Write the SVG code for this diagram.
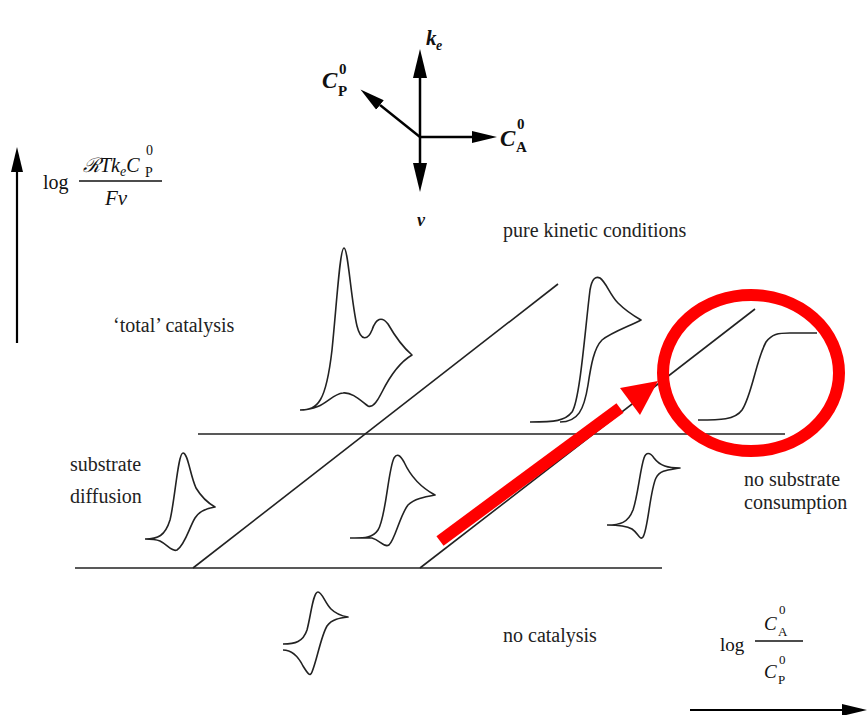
<svg xmlns="http://www.w3.org/2000/svg" width="867" height="715" viewBox="0 0 867 715">
<style>
.t{font-family:"Liberation Serif","Times New Roman",serif;font-size:20px;fill:#222}
.m{font-family:"Liberation Serif","Times New Roman",serif;fill:#111}
.bi{font-weight:bold;font-style:italic}
.b{font-weight:bold}
.i{font-style:italic}
.ln{stroke:#222;stroke-width:1.6;fill:none}
.cv{stroke:#222;stroke-width:1.6;fill:none;stroke-linejoin:round}
.ax{stroke:#000;stroke-width:2.5;fill:none}
</style>
<defs>
<marker id="ah" markerUnits="userSpaceOnUse" markerWidth="32" markerHeight="16" refX="0" refY="7" orient="auto" viewBox="0 0 32 14">
<path d="M0,0 L29,7 L0,14 z" fill="#000"/>
</marker>
<marker id="ah2" markerUnits="userSpaceOnUse" markerWidth="28" markerHeight="14" refX="0" refY="6" orient="auto" viewBox="0 0 28 12">
<path d="M0,0 L25,6 L0,12 z" fill="#000"/>
</marker>
</defs>

<g id="compass">
<line class="ax" x1="420" y1="137" x2="420" y2="78" marker-end="url(#ah)"/>
<line class="ax" x1="420" y1="137" x2="420" y2="163" marker-end="url(#ah)"/>
<line class="ax" x1="420" y1="137" x2="472" y2="137" marker-end="url(#ah2)"/>
<line class="ax" x1="420" y1="137" x2="380" y2="105" marker-end="url(#ah2)"/>
<text class="m bi" x="426" y="45" font-size="21">k</text>
<text class="m bi" x="436" y="50" font-size="14">e</text>
<text class="m bi" x="322" y="88" font-size="23">C</text>
<text class="m b" x="338" y="96" font-size="15">P</text>
<text class="m b" x="339" y="74" font-size="15">0</text>
<text class="m bi" x="500" y="146" font-size="23">C</text>
<text class="m b" x="516" y="152" font-size="15">A</text>
<text class="m b" x="517" y="129" font-size="15">0</text>
<text class="m bi" x="417" y="226" font-size="18">v</text>
</g>

<g id="y-axis">
<line x1="17" y1="343" x2="17" y2="172" stroke="#000" stroke-width="2.2" marker-end="url(#ah2)"/>
<text class="m" x="43" y="189" font-size="20">log</text>
<line x1="79" y1="181" x2="162" y2="181" stroke="#111" stroke-width="1.4"/>
<text class="m i" x="83" y="172" font-size="20">ℛ<tspan>Tk</tspan><tspan font-size="14" dy="4">e</tspan><tspan dy="-4">C</tspan></text>
<text class="m" x="145" y="177" font-size="14">P</text>
<text class="m" x="146" y="155" font-size="14">0</text>
<text class="m i" x="105" y="205" font-size="21">Fv</text>
</g>

<g id="x-axis">
<line x1="690" y1="710" x2="842" y2="710" stroke="#000" stroke-width="2.2" marker-end="url(#ah2)"/>
<text class="m" x="720" y="651" font-size="19">log</text>
<line x1="755" y1="641" x2="803" y2="641" stroke="#111" stroke-width="1.4"/>
<text class="m i" x="764" y="630" font-size="19">C</text>
<text class="m" x="778" y="636" font-size="13">A</text>
<text class="m" x="779" y="614" font-size="13">0</text>
<text class="m i" x="764" y="678" font-size="19">C</text>
<text class="m" x="778" y="684" font-size="13">P</text>
<text class="m" x="779" y="664" font-size="13">0</text>
</g>

<g id="connectors">
<line class="ln" x1="193" y1="568" x2="558" y2="284"/>
<line class="ln" x1="420" y1="568" x2="755" y2="309"/>
<line class="ln" x1="198" y1="434" x2="785" y2="434"/>
<line class="ln" x1="75" y1="568" x2="662" y2="568"/>
</g>

<g id="labels">
<text class="t" x="503" y="237">pure kinetic conditions</text>
<text class="t" x="113" y="332">‘total’ catalysis</text>
<text class="t" x="70" y="471">substrate</text>
<text class="t" x="70" y="503">diffusion</text>
<text class="t" x="744" y="486">no substrate</text>
<text class="t" x="744" y="509">consumption</text>
<text class="t" x="503" y="642">no catalysis</text>
</g>

<g id="cv-total">
<path class="cv" d="M300,410 C318,410 326,402 332,350 C337,300 340,248 344,248 C348,248 351,300 357,326 C361,342 368,340 372,330 C376,318 382,316 388,324 C396,338 405,349 412,355 C400,362 390,376 382,392 C376,404 372,408 368,406 C360,400 352,392 343,393 C330,394 325,410 300,410"/>
</g>
<g id="cv-kinetic">
<path class="cv" d="M530,422 C555,422 565,421 572,412 C580,400 585,330 590,290 C592,278 596,276 600,278 C606,282 610,295 618,303 C626,311 634,316 641,320 C630,326 612,332 602,340 C594,348 591,365 588,385 C584,410 578,422 560,422"/>
</g>
<g id="cv-sigmoid">
<path class="cv" d="M698,420 C720,420 735,420 742,410 C752,395 756,360 766,342 C772,334 778,333 790,333 L817,333"/>
</g>
<g id="cv-diffusion">
<path class="cv" d="M145,539 C158,539 165,536 170,520 C175,500 178,453 183,453 C188,453 190,475 196,488 C202,498 208,503 215,507 C208,508 200,510 195,518 C189,528 185,545 177,550 C172,552 168,545 160,541 C155,539 150,539 145,539"/>
</g>
<g id="cv-middle">
<path class="cv" d="M350,538 C362,538 372,539 378,530 C386,518 388,470 394,458 C397,453 400,455 404,462 C410,475 420,487 435,495 C424,497 414,499 408,505 C400,515 395,540 389,545 C384,548 380,540 372,538 C366,538 362,538 360,538"/>
</g>
<g id="cv-reversible">
<path class="cv" d="M607,525 C620,525 628,523 633,510 C638,495 640,470 644,458 C646,452 650,452 654,458 C660,466 668,468 680,468 C668,470 660,470 656,478 C650,490 648,530 643,537 C640,541 638,533 632,529 C625,525 615,525 607,525"/>
</g>
<g id="cv-nocat">
<path class="cv" d="M283,644 C295,644 303,642 307,630 C311,615 313,592 318,592 C322,592 325,603 331,609 C336,614 342,616 348,617 C340,618 332,619 327,626 C321,636 317,660 312,672 C310,677 308,674 303,666 C298,656 292,650 283,650"/>
</g>

<g id="highlight">
<ellipse cx="751" cy="373" rx="88" ry="78" fill="none" stroke="#ff0000" stroke-width="12"/>
<line x1="440" y1="541" x2="620" y2="408" stroke="#ff0000" stroke-width="12"/>
<polygon points="658,381 620,388 640,415" fill="#ff0000"/>
</g>
</svg>
